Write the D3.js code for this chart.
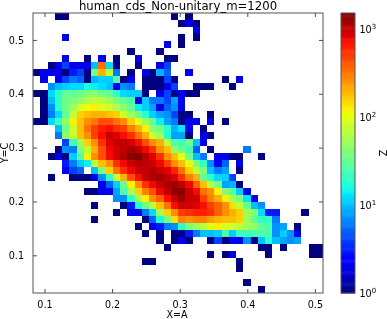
<!DOCTYPE html>
<html>
<head>
<meta charset="utf-8">
<script src="https://d3js.org/d3.v7.min.js"></script>
<style>
  html, body { margin: 0; padding: 0; background: #fff; }
  svg { display: block; filter: blur(0.35px); }
  text { font-family: "DejaVu Sans", sans-serif; fill: #000; }
</style>
</head>
<body>
<div id="chartContainer"></div>
<script>
// histogram counts, one row per y bin from the top, 0 = empty bin
var counts = [
  [0,0,0,1,1,0,0,0,0,0,0,0,0,0,0,0,0,0,0,1,0,1,0,0,0,0,0,0,0,0,0,0,0,0,0,0,0,0,0,0],
  [0,0,0,0,0,0,0,0,0,0,0,0,0,0,0,0,0,0,0,0,1,2,1,0,0,0,0,0,0,0,0,0,0,0,0,0,0,0,0,0],
  [0,0,0,0,0,0,0,0,0,0,0,0,0,0,0,0,0,0,0,0,0,0,2,0,0,0,0,0,0,0,0,0,0,0,0,0,0,0,0,0],
  [0,0,0,0,2,0,0,0,0,0,0,0,0,0,0,0,0,0,0,0,1,0,1,0,0,0,0,0,0,0,0,0,0,0,0,0,0,0,0,0],
  [0,0,0,0,0,0,0,0,0,0,0,0,0,0,0,0,0,0,2,0,1,0,0,0,0,0,0,0,0,0,0,0,0,0,0,0,0,0,0,0],
  [0,0,0,0,0,0,0,0,0,0,0,0,0,1,0,0,0,1,0,0,0,0,0,0,0,0,0,0,0,0,0,0,0,0,0,0,0,0,0,0],
  [0,0,0,0,2,0,0,1,0,2,0,1,0,0,2,0,0,0,1,1,0,0,0,0,0,0,0,0,0,0,0,0,0,0,0,0,0,0,0,0],
  [0,0,1,2,4,2,2,2,10,325,12,1,0,0,1,0,0,2,4,0,0,0,0,0,0,0,0,0,0,0,0,0,0,0,0,0,0,0,0,0],
  [1,2,2,2,1,3,4,1,37,200,70,6,0,1,0,2,1,9,5,0,0,2,0,0,0,0,0,0,0,0,0,0,0,0,0,0,0,0,0,0],
  [0,2,0,2,4,6,5,1,9,11,11,28,1,2,0,1,1,1,4,1,0,0,0,0,0,0,1,0,2,0,0,0,0,0,0,0,0,0,0,0],
  [0,0,7,10,11,12,12,16,14,12,10,2,7,6,0,1,1,1,2,4,0,0,1,1,1,0,0,1,0,0,0,0,0,0,0,0,0,0,0,0],
  [1,1,12,19,31,31,35,40,45,35,31,19,12,11,11,1,0,2,4,1,2,1,1,0,0,0,0,0,0,0,0,0,0,0,0,0,0,0,0,0],
  [0,1,10,19,35,40,45,60,70,70,54,40,31,25,2,11,6,6,4,8,2,0,0,0,0,0,0,0,0,0,0,0,0,0,0,0,0,0,0,0],
  [0,1,7,19,35,54,93,110,120,93,80,60,45,31,14,11,8,2,5,7,2,0,0,0,0,0,0,0,0,0,0,0,0,0,0,0,0,0,0,0],
  [0,1,6,12,31,70,156,180,200,200,180,156,80,54,35,19,11,8,7,4,1,1,0,0,1,0,0,0,0,0,0,0,0,0,0,0,0,0,0,0],
  [1,1,12,22,45,120,180,260,310,420,420,325,260,156,93,54,31,14,8,6,1,2,2,0,2,0,1,0,0,0,0,0,0,0,0,0,0,0,0,0],
  [0,0,0,10,35,80,180,325,480,620,700,540,480,290,200,120,45,35,19,9,13,2,0,1,0,0,0,0,0,0,0,0,0,0,0,0,0,0,0,0],
  [0,0,0,6,47,80,180,260,480,700,950,820,700,540,325,200,80,54,17,8,8,1,0,2,1,0,0,0,0,0,0,0,0,0,0,0,0,0,0,0],
  [0,0,0,0,4,22,54,156,260,540,820,1010,1010,900,700,420,260,200,70,25,22,37,10,2,0,0,0,0,0,0,0,0,0,0,0,0,0,0,0],
  [0,0,0,1,7,6,40,70,200,420,740,900,1010,1170,1010,740,540,260,180,47,33,22,5,0,1,0,0,0,0,6,0,0,0,0,0,0,0,0,0,0],
  [0,0,1,2,1,11,25,120,260,420,720,900,1110,1370,1510,1110,820,540,260,180,100,37,10,6,0,2,2,1,1,0,0,1,0,0,0,0,0,0,0,0],
  [0,0,0,0,3,6,11,14,70,180,260,540,740,950,1110,1010,950,740,480,260,180,93,37,20,7,2,5,0,2,0,0,0,0,0,0,0,0,0,0,0],
  [0,0,0,0,2,4,5,0,10,40,156,325,540,740,950,1010,1110,950,820,620,325,156,70,40,10,6,8,0,1,0,0,0,0,0,0,0,0,0,0,0],
  [0,0,1,0,0,1,1,1,2,7,20,80,200,420,700,950,1110,1220,1010,820,540,290,200,31,20,12,11,4,0,0,0,0,0,0,0,0,0,0,0,0],
  [0,0,0,0,0,0,0,0,0,2,5,11,35,120,260,540,740,950,1170,1220,1010,740,370,180,70,40,8,9,1,0,0,0,0,0,0,0,0,0,0,0],
  [0,0,0,0,0,0,0,1,1,2,2,8,25,60,156,290,420,740,1010,1370,1400,950,720,325,260,120,40,28,11,2,0,0,0,0,0,0,0,0,0,0],
  [0,0,0,0,0,0,0,0,0,0,0,7,7,20,54,120,260,370,700,950,1220,950,900,480,290,200,120,54,40,13,2,0,0,0,0,0,0,0,0,0],
  [0,0,0,0,0,0,0,0,1,0,0,0,1,3,17,35,70,180,325,700,900,900,820,700,480,370,260,140,70,31,10,7,0,0,0,0,0,0,0,0],
  [0,0,0,0,0,0,0,0,0,0,0,1,0,2,2,6,12,54,156,260,480,540,620,620,540,370,260,200,156,54,40,12,3,3,0,0,0,1,0,0],
  [0,0,0,0,0,0,0,0,1,0,0,0,0,0,0,1,5,17,37,140,290,260,290,290,230,200,180,180,156,54,31,20,20,6,0,0,0,0,0,0],
  [0,0,0,0,0,0,0,0,0,0,0,0,0,0,1,0,2,3,6,7,19,40,54,70,93,120,85,85,70,54,47,31,25,7,8,0,1,0,0,0],
  [0,0,0,0,0,0,0,0,0,0,0,0,0,0,0,1,0,1,0,1,1,3,6,10,10,11,25,11,22,22,25,25,25,7,11,7,2,0,0,0],
  [0,0,0,0,0,0,0,0,0,0,0,0,0,0,0,0,0,1,0,1,2,1,0,0,1,4,1,2,2,7,1,10,19,10,8,7,8,0,0,0],
  [0,0,0,0,0,0,0,0,0,0,0,0,0,0,0,0,0,0,1,0,0,0,0,0,0,0,0,0,0,0,0,1,1,0,1,0,0,0,1,1],
  [0,0,0,0,0,0,0,0,0,0,0,0,0,0,0,0,0,0,0,0,0,0,0,0,1,0,1,2,0,0,0,0,1,0,0,0,0,0,1,1],
  [0,0,0,0,0,0,0,0,0,0,0,0,0,0,0,1,1,0,0,0,0,0,0,0,0,0,0,0,1,0,0,0,0,0,0,0,0,0,0,0],
  [0,0,0,0,0,0,0,0,0,0,0,0,0,0,0,0,0,0,0,0,0,0,0,0,0,0,0,0,1,0,0,0,0,0,0,0,0,0,0,0],
  [0,0,0,0,0,0,0,0,0,0,0,0,0,0,0,0,0,0,0,0,0,0,0,0,0,0,0,0,0,0,0,0,0,0,0,0,0,0,0,0],
  [0,0,0,0,0,0,0,0,0,0,0,0,0,0,0,0,0,0,0,0,0,0,0,0,0,0,0,0,0,1,0,0,0,0,0,0,0,0,0,0],
  [0,0,0,0,0,0,0,0,0,0,0,0,0,0,0,0,0,0,0,0,0,0,0,0,0,0,0,0,0,0,0,1,0,0,0,0,0,0,0,0]
];
var xRange = [0.083, 0.512];
var yRange = [0.03, 0.55];
var xTicks = [0.1, 0.2, 0.3, 0.4, 0.5];
var yTicks = [0.1, 0.2, 0.3, 0.4, 0.5];
var zRange = [1, 1514];
var zTicks = [1, 10, 100, 1000];
var zExponents = ["0", "1", "2", "3"];

var svg = d3.select("#chartContainer").append("svg")
  .attr("width", 387)
  .attr("height", 319);

var plot = { left: 33, top: 13, width: 290, height: 280 };
var bar = { left: 341, top: 13, width: 14, height: 280 };

var x = d3.scaleLinear().domain(xRange).range([plot.left, plot.left + plot.width]);
var y = d3.scaleLinear().domain(yRange).range([plot.top + plot.height, plot.top]);
var z = d3.scaleLog().domain(zRange).range([0, 1]);
var zBar = d3.scaleLog().domain(zRange).range([bar.top + bar.height, bar.top]);

// matplotlib jet, piecewise linear
function jet(t) {
  var r = d3.scaleLinear().domain([0, 0.35, 0.66, 0.89, 1]).range([0, 0, 1, 1, 0.5]).clamp(true)(t);
  var g = d3.scaleLinear().domain([0, 0.125, 0.375, 0.64, 0.91, 1]).range([0, 0, 1, 1, 0, 0]).clamp(true)(t);
  var b = d3.scaleLinear().domain([0, 0.11, 0.34, 0.65, 1]).range([0.5, 1, 1, 0, 0]).clamp(true)(t);
  return d3.rgb(r * 255, g * 255, b * 255);
}

var nRows = counts.length;
var nCols = counts[0].length;
var xBin = d3.scaleLinear().domain([0, nCols]).range(xRange);
var yBin = d3.scaleLinear().domain([0, nRows]).range([yRange[1], yRange[0]]);

// cells of the histogram
var cells = [];
counts.forEach(function (row, j) {
  row.forEach(function (c, i) {
    if (c > 0) cells.push({ i: i, j: j, c: c });
  });
});

svg.append("g").selectAll("rect")
  .data(cells)
  .enter()
  .append("rect")
  .attr("x", function (d) { return x(xBin(d.i)); })
  .attr("y", function (d) { return y(yBin(d.j)); })
  .attr("width", function (d) { return x(xBin(d.i + 1)) - x(xBin(d.i)); })
  .attr("height", function (d) { return y(yBin(d.j + 1)) - y(yBin(d.j)); })
  .attr("shape-rendering", "crispEdges")
  .style("fill", function (d) { return jet(z(d.c)); });

// axes, ticks point inwards on all four sides
function style_axis(g) {
  g.select(".domain").remove();
  g.selectAll("line").attr("stroke", "#222").attr("stroke-width", 0.8);
  g.selectAll("text").style("font-size", "9.6px");
}

svg.append("g")
  .attr("transform", "translate(0," + (plot.top + plot.height) + ")")
  .call(d3.axisBottom(x).tickValues(xTicks).tickSizeInner(-4).tickPadding(8).tickFormat(d3.format(".1f")))
  .call(style_axis);
svg.append("g")
  .attr("transform", "translate(0," + plot.top + ")")
  .call(d3.axisTop(x).tickValues(xTicks).tickSizeInner(-4).tickFormat(""))
  .call(style_axis);
svg.append("g")
  .attr("transform", "translate(" + plot.left + ",0)")
  .call(d3.axisLeft(y).tickValues(yTicks).tickSizeInner(-4).tickPadding(9).tickFormat(d3.format(".1f")))
  .call(style_axis);
svg.append("g")
  .attr("transform", "translate(" + (plot.left + plot.width) + ",0)")
  .call(d3.axisRight(y).tickValues(yTicks).tickSizeInner(-4).tickFormat(""))
  .call(style_axis);

svg.append("rect")
  .attr("x", plot.left)
  .attr("y", plot.top)
  .attr("width", plot.width)
  .attr("height", plot.height)
  .style("fill", "none")
  .style("stroke", "#555")
  .style("stroke-width", 1);

// colorbar
var barSteps = d3.range(0, 256).map(function (k) { return k / 256; });
svg.append("g").selectAll("rect")
  .data(barSteps)
  .enter()
  .append("rect")
  .attr("x", bar.left)
  .attr("y", function (d) { return bar.top + bar.height * (1 - d - 1 / 256); })
  .attr("width", bar.width)
  .attr("height", bar.height / 256 + 0.5)
  .style("fill", function (d) { return jet(d); });

svg.append("rect")
  .attr("x", bar.left)
  .attr("y", bar.top)
  .attr("width", bar.width)
  .attr("height", bar.height)
  .style("fill", "none")
  .style("stroke", "#555")
  .style("stroke-width", 1);

var zLabels = svg.append("g").selectAll("text")
  .data(zTicks)
  .enter()
  .append("text")
  .attr("x", bar.left + bar.width + 4.5)
  .attr("y", function (d) { return zBar(d) + 4; })
  .style("font-size", "9.6px");
zLabels.append("tspan").text("10");
zLabels.append("tspan")
  .attr("dy", -4)
  .style("font-size", "7px")
  .text(function (d, i) { return zExponents[i]; });

// title and axis labels
svg.append("text")
  .attr("x", 178)
  .attr("y", 9.5)
  .attr("text-anchor", "middle")
  .style("font-size", "11.7px")
  .text("human_cds_Non-unitary_m=1200");
svg.append("text")
  .attr("x", 177)
  .attr("y", 317.5)
  .attr("text-anchor", "middle")
  .style("font-size", "9.6px")
  .text("X=A");
svg.append("text")
  .attr("transform", "translate(8,153) rotate(-90)")
  .attr("text-anchor", "middle")
  .style("font-size", "9.6px")
  .text("Y=C");
svg.append("text")
  .attr("transform", "translate(379,153) rotate(90)")
  .attr("text-anchor", "middle")
  .style("font-size", "9.6px")
  .text("Z");
</script>
</body>
</html>
